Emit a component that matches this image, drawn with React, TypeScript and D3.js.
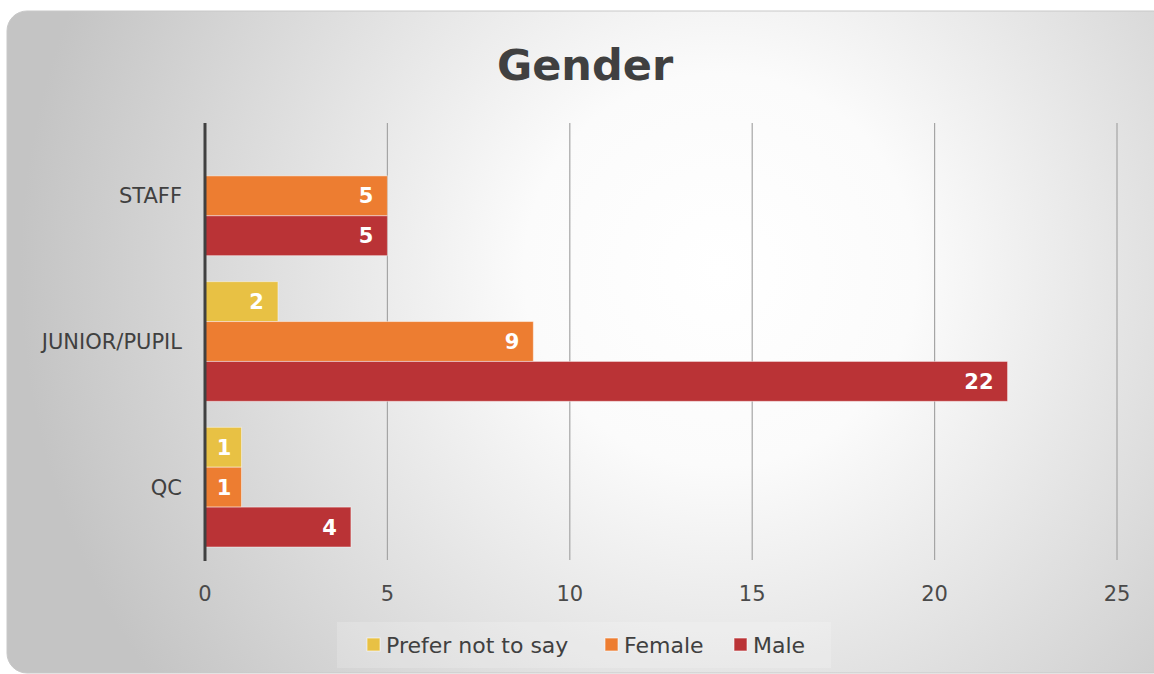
import React from 'react';
import * as d3 from 'd3';

const categories = ['STAFF', 'JUNIOR/PUPIL', 'QC'];
const seriesNames = ['Prefer not to say', 'Female', 'Male'];
const preferNotToSay = [0, 2, 1];
const female = [5, 9, 1];
const male = [5, 22, 4];
const xTicks = [0, 5, 10, 15, 20, 25];

const seriesValues = [preferNotToSay, female, male];
const colors = ['#E8C144', '#ED7D31', '#BA3336'];
const font = '"DejaVu Sans", sans-serif';

export default function App() {
  const width = 1154, height = 674;
  const margin = { top: 123, bottom: 114, left: 205, right: 37 };

  const x = d3.scaleLinear().domain([0, 25]).range([margin.left, width - margin.right]);
  const y0 = d3.scaleBand().domain(categories).range([margin.top, height - margin.bottom]);
  const pad = 13;
  const y1 = d3.scaleBand().domain(seriesNames).range([pad, y0.bandwidth() - pad]);

  const bars = categories.flatMap((c, ci) =>
    seriesNames.map((s, si) => ({ c, s, si, v: seriesValues[si][ci] }))
  ).filter(d => d.v > 0);

  const legendX = [367, 605, 734];

  return (
    <svg width={width} height={height} style={{ position: 'absolute', left: 0, top: 0 }}>
      <defs>
        <radialGradient id="bg" gradientUnits="userSpaceOnUse" cx="720" cy="270" r="700">
          <stop offset="0" stopColor="#ffffff" />
          <stop offset="0.28" stopColor="#fbfbfb" />
          <stop offset="1" stopColor="#c4c4c4" />
        </radialGradient>
      </defs>
      <rect x={0} y={0} width={width} height={height} fill="#ffffff" />
      <rect x={7} y={11} width={1166} height={662} rx={20} fill="url(#bg)" stroke="#c8c8c8" strokeWidth={1} />

      <text x={585} y={80} textAnchor="middle" fontFamily={font} fontWeight="bold" fontSize={43} fill="#404040">Gender</text>

      {/* gridlines */}
      {xTicks.filter(t => t > 0).map(t => (
        <line key={t} x1={x(t)} x2={x(t)} y1={margin.top} y2={height - margin.bottom} stroke="#a5a5a5" strokeWidth={1.2} />
      ))}

      {/* bars */}
      {bars.map(d => {
        const yy = (y0(d.c) as number) + (y1(d.s) as number);
        return (
          <g key={d.c + d.s}>
            <rect x={x(0)} y={yy} width={x(d.v) - x(0)} height={y1.bandwidth()} fill={colors[d.si]}
              stroke="rgba(255,255,255,0.45)" strokeWidth={1} />
            <text x={x(d.v) - (d.v === 1 ? 10 : 14)} y={yy + y1.bandwidth() / 2} dy="0.36em" textAnchor="end"
              fontFamily={font} fontWeight="bold" fontSize={21} fill="#ffffff">{d.v}</text>
          </g>
        );
      })}

      {/* axis line */}
      <line x1={x(0)} x2={x(0)} y1={margin.top} y2={height - margin.bottom + 1} stroke="#404040" strokeWidth={3} />

      {/* category labels */}
      {categories.map(c => (
        <text key={c} x={182} y={(y0(c) as number) + y0.bandwidth() / 2} dy="0.36em" textAnchor="end"
          fontFamily={font} fontSize={21} fill="#404040">{c}</text>
      ))}

      {/* x tick labels */}
      {xTicks.map(t => (
        <text key={t} x={x(t)} y={593} dy="0.36em" textAnchor="middle" fontFamily={font} fontSize={21} fill="#4a4a4a">{t}</text>
      ))}

      {/* legend */}
      <rect x={337} y={622} width={494} height={46} fill="#ffffff" fillOpacity={0.18} />
      {seriesNames.map((s, i) => (
        <g key={s}>
          <rect x={legendX[i]} y={638} width={13} height={13} fill={colors[i]} stroke="rgba(255,255,255,0.6)" strokeWidth={1} />
          <text x={legendX[i] + 19} y={645} dy="0.36em" fontFamily={font} fontSize={22} fill="#404040">{s}</text>
        </g>
      ))}
    </svg>
  );
}
